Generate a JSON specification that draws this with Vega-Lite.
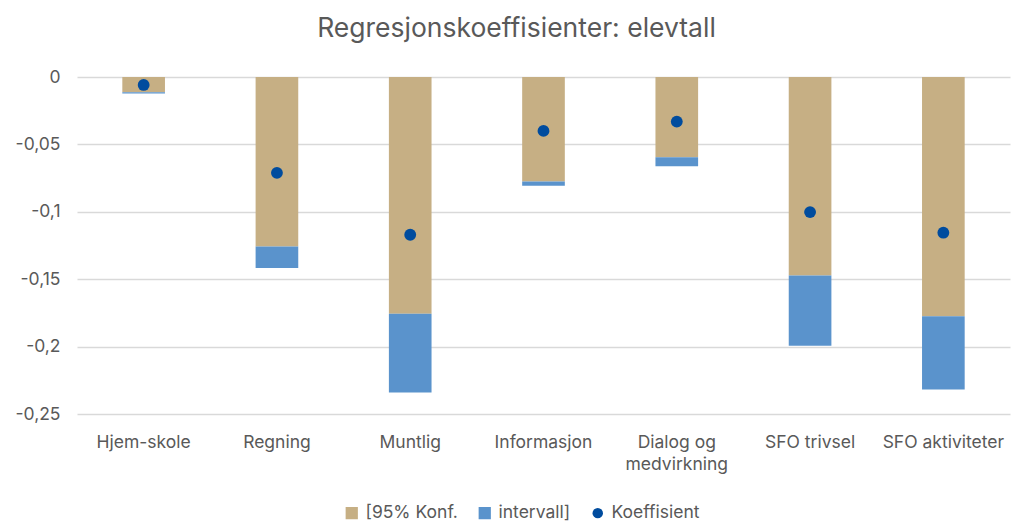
{
  "$schema": "https://vega.github.io/schema/vega-lite/v6.json",
  "width": 933,
  "height": 337,
  "autosize": {"type": "none"},
  "padding": {"left": 77, "top": 77, "right": 3, "bottom": 116},
  "background": "white",
  "config": {
    "font": "Inter",
    "view": {"stroke": null},
    "axis": {"labelColor": "#595959", "labelFontSize": 17.5, "labelFont": "Inter", "titleColor": "#595959"},
    "legend": {"labelColor": "#595959", "labelFontSize": 17.5, "labelFont": "Inter"}
  },
  "title": {
    "text": "Regresjonskoeffisienter: elevtall",
    "fontSize": 26.5,
    "fontWeight": "normal",
    "color": "#595959",
    "font": "Inter",
    "anchor": "middle",
    "dx": -27,
    "offset": 26
  },
  "datasets": {
    "bars": [
      {"kategori": "Hjem-skole", "serie": "[95% Konf.", "rekke": 1, "verdi": -0.0114},
      {"kategori": "Hjem-skole", "serie": "intervall]", "rekke": 2, "verdi": -0.0008},
      {"kategori": "Regning", "serie": "[95% Konf.", "rekke": 1, "verdi": -0.1257},
      {"kategori": "Regning", "serie": "intervall]", "rekke": 2, "verdi": -0.016},
      {"kategori": "Muntlig", "serie": "[95% Konf.", "rekke": 1, "verdi": -0.1756},
      {"kategori": "Muntlig", "serie": "intervall]", "rekke": 2, "verdi": -0.0585},
      {"kategori": "Informasjon", "serie": "[95% Konf.", "rekke": 1, "verdi": -0.0776},
      {"kategori": "Informasjon", "serie": "intervall]", "rekke": 2, "verdi": -0.0031},
      {"kategori": "Dialog og medvirkning", "serie": "[95% Konf.", "rekke": 1, "verdi": -0.0595},
      {"kategori": "Dialog og medvirkning", "serie": "intervall]", "rekke": 2, "verdi": -0.0067},
      {"kategori": "SFO trivsel", "serie": "[95% Konf.", "rekke": 1, "verdi": -0.1472},
      {"kategori": "SFO trivsel", "serie": "intervall]", "rekke": 2, "verdi": -0.0521},
      {"kategori": "SFO aktiviteter", "serie": "[95% Konf.", "rekke": 1, "verdi": -0.1775},
      {"kategori": "SFO aktiviteter", "serie": "intervall]", "rekke": 2, "verdi": -0.0544}
    ],
    "punkter": [
      {"kategori": "Hjem-skole", "serie": "Koeffisient", "verdi": -0.0059},
      {"kategori": "Regning", "serie": "Koeffisient", "verdi": -0.0711},
      {"kategori": "Muntlig", "serie": "Koeffisient", "verdi": -0.117},
      {"kategori": "Informasjon", "serie": "Koeffisient", "verdi": -0.040},
      {"kategori": "Dialog og medvirkning", "serie": "Koeffisient", "verdi": -0.0331},
      {"kategori": "SFO trivsel", "serie": "Koeffisient", "verdi": -0.1002},
      {"kategori": "SFO aktiviteter", "serie": "Koeffisient", "verdi": -0.1155}
    ]
  },
  "encoding": {
    "x": {
      "field": "kategori",
      "type": "nominal",
      "sort": null,
      "scale": {"paddingInner": 0.68, "paddingOuter": 0.34},
      "axis": {
        "title": null,
        "labelAngle": 0,
        "domain": false,
        "ticks": false,
        "labelPadding": 19,
        "labelLineHeight": 22,
        "labelExpr": "datum.value == 'Dialog og medvirkning' ? ['Dialog og', 'medvirkning'] : datum.value"
      }
    }
  },
  "layer": [
    {
      "data": {"name": "bars"},
      "mark": {"type": "bar"},
      "encoding": {
        "y": {
          "field": "verdi",
          "type": "quantitative",
          "stack": "zero",
          "scale": {"domain": [-0.25, 0], "nice": false},
          "axis": {
            "title": null,
            "values": [-0.25, -0.2, -0.15, -0.1, -0.05, 0],
            "labelExpr": "replace(toString(datum.value), '.', ',')",
            "domain": false,
            "ticks": false,
            "labelPadding": 17,
            "gridColor": "#D9D9D9",
            "gridWidth": 1.5
          }
        },
        "order": {"field": "rekke", "type": "quantitative"},
        "color": {
          "field": "serie",
          "type": "nominal",
          "scale": {
            "domain": ["[95% Konf.", "intervall]", "Koeffisient"],
            "range": ["#C6AF84", "#5A93CC", "#004C9E"]
          },
          "legend": {
            "title": null,
            "orient": "none",
            "direction": "horizontal",
            "legendX": 266,
            "legendY": 427,
            "symbolSize": 150,
            "columnPadding": 18,
            "labelOffset": 5,
            "symbolStrokeWidth": 0,
            "encode": {
              "symbols": {
                "update": {
                  "shape": {"signal": "datum.value === 'Koeffisient' ? 'circle' : 'square'"},
                  "size": {"signal": "datum.value === 'Koeffisient' ? 110 : 150"}
                }
              }
            }
          }
        }
      }
    },
    {
      "data": {"name": "punkter"},
      "mark": {"type": "point", "filled": true, "opacity": 1, "size": 140},
      "encoding": {
        "y": {"field": "verdi", "type": "quantitative"},
        "color": {"field": "serie", "type": "nominal"}
      }
    }
  ]
}
